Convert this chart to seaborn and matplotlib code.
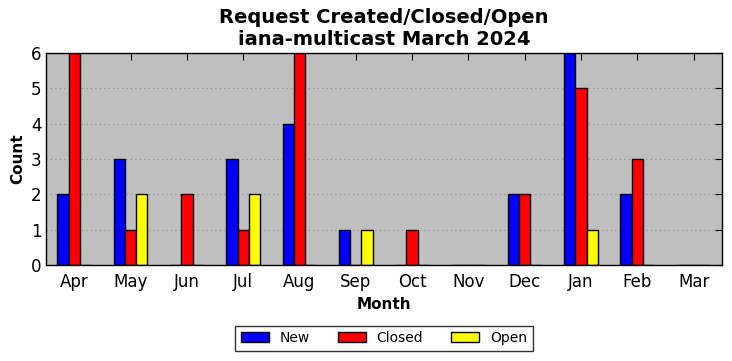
import pandas as pd
import matplotlib
matplotlib.use("Agg")
import matplotlib.pyplot as plt
import seaborn as sns

months = ['Apr', 'May', 'Jun', 'Jul', 'Aug', 'Sep', 'Oct', 'Nov', 'Dec', 'Jan', 'Feb', 'Mar']
new = [2, 3, 0, 3, 4, 1, 0, 0, 2, 6, 2, 0]
closed = [6, 1, 2, 1, 6, 0, 1, 0, 2, 5, 3, 0]
opened = [0, 2, 0, 2, 0, 1, 0, 0, 0, 1, 0, 0]

sns.set_style("white")
plt.rcParams['font.family'] = ['DejaVu Sans']
plt.rcParams['text.color'] = 'black'
plt.rcParams['axes.labelcolor'] = 'black'
plt.rcParams['xtick.color'] = 'black'
plt.rcParams['ytick.color'] = 'black'

df = pd.DataFrame({
    'Month': months * 3,
    'Count': new + closed + opened,
    'Type': ['New'] * 12 + ['Closed'] * 12 + ['Open'] * 12,
})

fig, ax = plt.subplots(figsize=(7.32, 3.61), dpi=100)
ax.set_facecolor('#bfbfbf')
sns.barplot(data=df, x='Month', y='Count', hue='Type', order=months,
            hue_order=['New', 'Closed', 'Open'],
            palette={'New': 'blue', 'Closed': 'red', 'Open': 'yellow'},
            width=0.6, edgecolor='black', linewidth=1, saturation=1, ax=ax)

ax.set_ylim(0, 6)
ax.set_xlim(-0.5, 11.5)
ax.yaxis.grid(True, linestyle=(0, (1, 3)), color='#8c8c8c', linewidth=0.8)
ax.set_axisbelow(True)
for s in ax.spines.values():
    s.set_color('black')
    s.set_linewidth(1)
ax.tick_params(direction='in', top=True, right=True, length=5, labelsize=12,
               color='black', labelcolor='black')
ax.tick_params(axis='x', pad=6)

ax.set_title('Request Created/Closed/Open\niana-multicast March 2024', fontsize=14,
             fontweight='bold', color='black')
ax.set_xlabel('Month', fontsize=11, fontweight='bold', color='black')
ax.set_ylabel('Count', fontsize=11, fontweight='bold', color='black')

leg = ax.legend(loc='center', bbox_to_anchor=(0.5, -0.345), ncol=3, frameon=True,
                fancybox=False, edgecolor='black', fontsize=10, handlelength=2.0,
                handletextpad=0.8, columnspacing=2.0, borderpad=0.4)
leg.get_frame().set_linewidth(1)
for t in leg.get_texts():
    t.set_color('black')

fig.subplots_adjust(left=0.063, right=0.986, top=0.853, bottom=0.266)
fig.savefig('out.png', dpi=100)
